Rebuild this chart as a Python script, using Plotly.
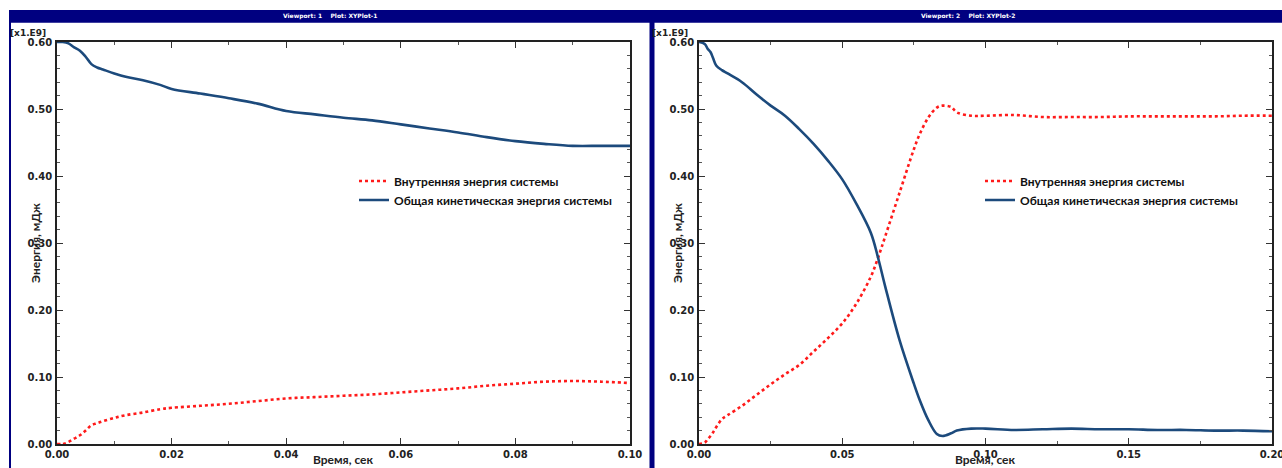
import plotly.graph_objects as go

W, H = 1282, 468

# ---- data (values in units of 1e9, i.e. as shown on axis) ----
t1 = [0, 0.001, 0.002, 0.003, 0.004, 0.005, 0.006, 0.007, 0.008, 0.01, 0.012, 0.015, 0.018, 0.02,
      0.025, 0.03, 0.035, 0.04, 0.045, 0.05, 0.055, 0.06, 0.065, 0.07, 0.075, 0.08, 0.085, 0.09, 0.095, 0.1]
kin1 = [0.600, 0.600, 0.598, 0.592, 0.587, 0.578, 0.567, 0.562, 0.559, 0.553, 0.548, 0.543, 0.536, 0.530,
        0.523, 0.516, 0.508, 0.497, 0.492, 0.487, 0.483, 0.477, 0.471, 0.465, 0.458, 0.452, 0.448, 0.445, 0.445, 0.445]
int1 = [0.000, 0.000, 0.003, 0.008, 0.013, 0.020, 0.028, 0.031, 0.034, 0.039, 0.043, 0.047, 0.052, 0.054,
        0.057, 0.060, 0.064, 0.068, 0.070, 0.072, 0.074, 0.077, 0.080, 0.083, 0.087, 0.090, 0.093, 0.094, 0.093, 0.091]

t2 = [0, 0.002, 0.003, 0.004, 0.005, 0.006, 0.008, 0.01, 0.015, 0.02, 0.025, 0.03, 0.035, 0.04, 0.045,
      0.05, 0.055, 0.06, 0.0625, 0.065, 0.07, 0.075, 0.077, 0.08, 0.083, 0.085, 0.088, 0.09, 0.095, 0.1,
      0.11, 0.12, 0.13, 0.14, 0.15, 0.16, 0.17, 0.18, 0.19, 0.2]
kin2 = [0.600, 0.597, 0.590, 0.585, 0.575, 0.565, 0.558, 0.553, 0.540, 0.522, 0.505, 0.490, 0.470, 0.448, 0.423,
        0.395, 0.358, 0.315, 0.278, 0.235, 0.155, 0.090, 0.066, 0.036, 0.015, 0.012, 0.016, 0.020, 0.023, 0.023,
        0.021, 0.022, 0.023, 0.022, 0.022, 0.021, 0.021, 0.020, 0.020, 0.019]
int2 = [0.000, 0.002, 0.007, 0.012, 0.018, 0.025, 0.037, 0.043, 0.057, 0.073, 0.089, 0.104, 0.118, 0.138, 0.158,
        0.180, 0.210, 0.250, 0.278, 0.310, 0.375, 0.440, 0.462, 0.487, 0.502, 0.505, 0.503, 0.495, 0.490, 0.490,
        0.491, 0.488, 0.488, 0.488, 0.489, 0.489, 0.489, 0.489, 0.490, 0.490]

name_int = "Внутренняя энергия системы"
name_kin = "Общая кинетическая энергия системы"
x_title = "Время, сек"
y_title = "Энергия, мДж"
titles = ["Viewport: 1    Plot: XYPlot-1", "Viewport: 2    Plot: XYPlot-2"]

NAVY = "#000080"
BLUE = "#1c4a7c"
RED = "#ff1a1a"

def px(x):
    return x / W

def py(y):
    return 1 - y / H

fig = go.Figure()

fig.add_trace(go.Scatter(x=t1, y=int1, name=name_int, mode="lines", line=dict(color=RED, width=2.6, dash="dot", shape="spline"),
                         xaxis="x", yaxis="y", legend="legend"))
fig.add_trace(go.Scatter(x=t1, y=kin1, name=name_kin, mode="lines", line=dict(color=BLUE, width=2.6, shape="spline"),
                         xaxis="x", yaxis="y", legend="legend"))
fig.add_trace(go.Scatter(x=t2, y=int2, name=name_int, mode="lines", line=dict(color=RED, width=2.6, dash="dot", shape="spline"),
                         xaxis="x2", yaxis="y2", legend="legend2"))
fig.add_trace(go.Scatter(x=t2, y=kin2, name=name_kin, mode="lines", line=dict(color=BLUE, width=2.6, shape="spline"),
                         xaxis="x2", yaxis="y2", legend="legend2"))

tickfont = dict(family="DejaVu Sans", size=10, color="#222", weight="bold")

def xax(dom, rng, dt, mdt, anchor):
    return dict(domain=dom, range=rng, dtick=dt, tick0=0, tickformat=".2f", ticks="inside", ticklen=6,
                tickcolor="#333", tickwidth=1, minor=dict(dtick=mdt, ticks="inside", ticklen=3, tickcolor="#555"),
                showline=True, mirror="ticks", linecolor="#222", linewidth=1.5, showgrid=False, zeroline=False,
                tickfont=tickfont, anchor=anchor, ticklabelstandoff=0, automargin=False,
                ticklabeloverflow="allow")

def yax(dom, anchor):
    return dict(domain=dom, range=[0, 0.6], dtick=0.1, tick0=0, tickformat=".2f", ticks="inside", ticklen=6,
                tickcolor="#333", tickwidth=1, minor=dict(dtick=0.02, ticks="inside", ticklen=3, tickcolor="#555"),
                showline=True, mirror="ticks", linecolor="#222", linewidth=1.5, showgrid=False, zeroline=False,
                tickfont=tickfont, anchor=anchor, ticklabelstandoff=1, automargin=False,
                ticklabeloverflow="allow")

ydom = [py(444), py(42)]
legfont = dict(family="Lato", size=12, color="#111", weight="bold")
fig.update_layout(
    width=W, height=H, margin=dict(l=0, r=0, t=0, b=0, autoexpand=False),
    paper_bgcolor="white", plot_bgcolor="white",
    xaxis=xax([px(57), px(630)], [0, 0.1], 0.02, 0.01, "y"),
    yaxis=yax(ydom, "x"),
    xaxis2=xax([px(699), px(1272)], [0, 0.2], 0.05, 0.025, "y2"),
    yaxis2=yax(ydom, "x2"),
    legend=dict(x=px(354), y=py(166.5), xanchor="left", yanchor="top", bgcolor="rgba(0,0,0,0)",
                font=legfont, tracegroupgap=0, itemwidth=30),
    legend2=dict(x=px(980), y=py(166.5), xanchor="left", yanchor="top", bgcolor="rgba(0,0,0,0)",
                 font=legfont, tracegroupgap=0, itemwidth=30),
    showlegend=True,
)

shapes = [
    dict(type="rect", xref="paper", yref="paper", x0=px(9), x1=px(1282), y0=py(22.7), y1=py(10),
         fillcolor=NAVY, line=dict(width=0), layer="above"),
    dict(type="rect", xref="paper", yref="paper", x0=px(9), x1=px(11), y0=0, y1=py(10),
         fillcolor=NAVY, line=dict(width=0), layer="above"),
    dict(type="rect", xref="paper", yref="paper", x0=px(649.5), x1=px(654.5), y0=0, y1=py(10),
         fillcolor=NAVY, line=dict(width=0), layer="above"),
]
fig.update_layout(shapes=shapes)

ann = []
for cx, title in zip([330, 968], titles):
    ann.append(dict(x=px(cx), y=py(16.3), xref="paper", yref="paper", text=title, showarrow=False,
                    font=dict(family="DejaVu Sans", size=6, color="white", weight="bold"),
                    xanchor="center", yanchor="middle"))
for xl, xc in [(52, 343.5), (694, 985.5)]:
    ann.append(dict(x=px(xl - 4), y=py(33), xref="paper", yref="paper", text="[x1.E9]", showarrow=False,
                    font=dict(family="DejaVu Sans", size=9, color="#222", weight="bold"),
                    xanchor="right", yanchor="middle"))
    ann.append(dict(x=px(xl - 17), y=py(243), xref="paper", yref="paper", text=y_title, showarrow=False,
                    textangle=-90, font=dict(family="Lato", size=12, color="#222", weight="bold"),
                    xanchor="center", yanchor="middle"))
    ann.append(dict(x=px(xc), y=py(459.5), xref="paper", yref="paper", text=x_title, showarrow=False,
                    font=dict(family="Lato", size=12, color="#222", weight="bold"),
                    xanchor="center", yanchor="middle"))
fig.update_layout(annotations=ann)

fig.write_html("out.html")
